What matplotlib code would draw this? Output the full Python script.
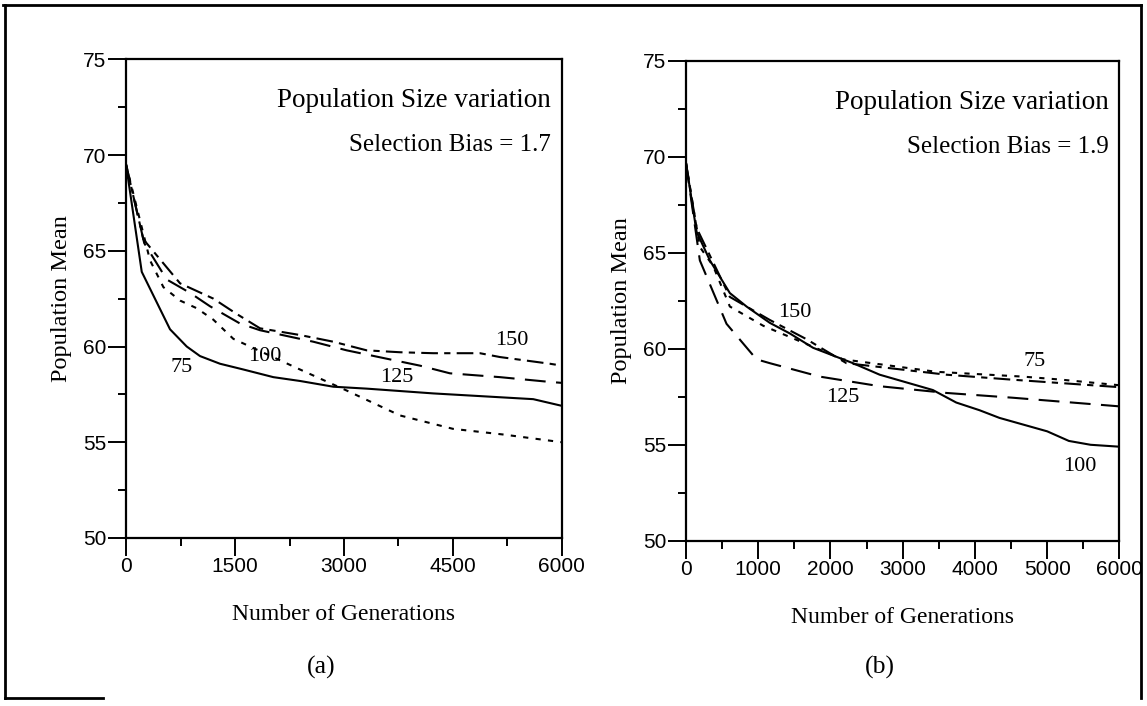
import numpy as np
import matplotlib
matplotlib.use("Agg")
import matplotlib.pyplot as plt
from matplotlib.lines import Line2D
from matplotlib.ticker import MultipleLocator

#### Data (generations, population mean)
# panel (a), selection bias = 1.7
a75_x = [0, 216, 605, 835, 1018, 1293, 1614, 2027, 2394, 2853, 3312, 4229, 5146, 5605, 6000]
a75_y = [69.5, 63.9, 60.9, 60.0, 59.5, 59.1, 58.8, 58.4, 58.2, 57.9, 57.8, 57.55, 57.35, 57.25, 56.9]

a100_x = [0, 330, 514, 743, 972, 1202, 1477, 2394, 3037, 3770, 4500, 5200, 6000]
a100_y = [69.5, 64.5, 63.1, 62.4, 62.0, 61.4, 60.4, 58.8, 57.7, 56.4, 55.7, 55.4, 55.0]

a125_x = [0, 250, 560, 881, 1156, 1569, 1844, 2578, 3037, 3541, 4046, 4458, 5146, 5834, 6000]
a125_y = [69.5, 65.4, 63.5, 62.8, 62.1, 61.2, 60.85, 60.25, 59.8, 59.4, 59.0, 58.6, 58.4, 58.15, 58.1]

a150_x = [0, 238, 743, 1202, 1523, 1844, 2394, 2853, 3312, 3770, 4229, 4871, 5146, 5834, 6000]
a150_y = [69.5, 65.6, 63.3, 62.5, 61.7, 60.95, 60.6, 60.25, 59.8, 59.7, 59.65, 59.65, 59.45, 59.1, 59.0]

# panel (b), selection bias = 1.9
b75_x = [0, 193, 378, 608, 1069, 1760, 2174, 3464, 4662, 5169, 6000]
b75_y = [69.7, 65.3, 64.3, 62.2, 61.2, 60.1, 59.45, 58.8, 58.55, 58.4, 58.1]

b100_x = [0, 147, 332, 608, 839, 1161, 1437, 1760, 2312, 2681, 3142, 3418, 3741, 4063, 4339, 5000, 5300, 5600, 6000]
b100_y = [69.7, 66.1, 64.6, 62.9, 62.2, 61.35, 60.8, 60.05, 59.25, 58.65, 58.15, 57.85, 57.2, 56.8, 56.4, 55.7, 55.2, 55.0, 54.9]

b125_x = [0, 193, 562, 977, 1161, 1852, 2681, 3603, 4524, 6000]
b125_y = [69.7, 64.6, 61.3, 59.45, 59.25, 58.55, 58.05, 57.7, 57.45, 57.0]

b150_x = [0, 147, 608, 1161, 1668, 2221, 3603, 4478, 6000]
b150_y = [69.7, 66.3, 62.7, 61.5, 60.5, 59.25, 58.65, 58.4, 58.0]

# curve labels: (text, x, y)
a_labels = [("75", 766, 58.9), ("100", 1913, 59.5), ("125", 3725, 58.4), ("150", 5307, 60.3)]
b_labels = [("150", 1506, 61.9), ("75", 4823, 59.35), ("125", 2174, 57.45), ("100", 5445, 53.85)]

a_xticks = [0, 1500, 3000, 4500, 6000]
b_xticks = [0, 1000, 2000, 3000, 4000, 5000, 6000]
y_ticks = [50, 55, 60, 65, 70, 75]

serif = "Liberation Serif"
sans = "Liberation Sans"

solid = "-"
dotted = (0, (2.5, 3.5))
longdash = (0, (10, 5))
dashdot = (0, (8, 3, 3, 3))

fig = plt.figure(figsize=(11.47, 7.06), dpi=100)
ax_a = fig.add_axes([0.1099, 0.238, 0.380, 0.678])
ax_b = fig.add_axes([0.598, 0.234, 0.378, 0.680])


def style_axes(ax, xticks, xminor, bias):
    ax.set_xlim(0, 6000)
    ax.set_ylim(50, 75)
    ax.set_xticks(xticks)
    ax.set_yticks(y_ticks)
    ax.xaxis.set_minor_locator(MultipleLocator(xminor))
    ax.yaxis.set_minor_locator(MultipleLocator(2.5))
    ax.tick_params(which="major", direction="out", length=13, width=1.4,
                   labelsize=15, pad=1)
    ax.tick_params(which="minor", direction="out", length=6, width=1.4)
    for lab in ax.get_xticklabels() + ax.get_yticklabels():
        lab.set_fontfamily(sans)
    for sp in ax.spines.values():
        sp.set_linewidth(1.6)
    ax.set_xlabel("Number of Generations", fontfamily=serif, fontsize=17, labelpad=20)
    ax.set_ylabel("Population Mean", fontfamily=serif, fontsize=17.5, labelpad=8)
    ax.text(5850, 72.85, "Population Size variation", fontfamily=serif, fontsize=19.5,
            ha="right", va="center")
    ax.text(5850, 70.5, f"Selection Bias = {bias}", fontfamily=serif, fontsize=18,
            ha="right", va="center")


style_axes(ax_a, a_xticks, 750, "1.7")
style_axes(ax_b, b_xticks, 500, "1.9")

lw = 1.5
ax_a.plot(a75_x, a75_y, color="black", lw=lw, linestyle=solid)
ax_a.plot(a100_x, a100_y, color="black", lw=lw, linestyle=dotted)
ax_a.plot(a125_x, a125_y, color="black", lw=lw, linestyle=longdash)
ax_a.plot(a150_x, a150_y, color="black", lw=lw, linestyle=dashdot)

ax_b.plot(b100_x, b100_y, color="black", lw=lw, linestyle=solid)
ax_b.plot(b75_x, b75_y, color="black", lw=lw, linestyle=dotted)
ax_b.plot(b125_x, b125_y, color="black", lw=lw, linestyle=longdash)
ax_b.plot(b150_x, b150_y, color="black", lw=lw, linestyle=dashdot)

for txt, x, y in a_labels:
    ax_a.text(x, y, txt, fontfamily=serif, fontsize=16, ha="center", va="center")
for txt, x, y in b_labels:
    ax_b.text(x, y, txt, fontfamily=serif, fontsize=16, ha="center", va="center")

# panel letters
fig.text(0.28, 0.054, "(a)", fontfamily=serif, fontsize=18.5, ha="center", va="center")
fig.text(0.767, 0.054, "(b)", fontfamily=serif, fontsize=18.5, ha="center", va="center")

# scanned frame round the figure
frame = dict(color="black", lw=2, transform=fig.transFigure)
fig.add_artist(Line2D([0.003, 0.995], [0.993, 0.993], **frame))
fig.add_artist(Line2D([0.004, 0.004], [0.012, 0.993], **frame))
fig.add_artist(Line2D([0.995, 0.995], [0.012, 0.993], **frame))
fig.add_artist(Line2D([0.004, 0.09], [0.012, 0.012], **frame))

fig.savefig("out.png", dpi=100, facecolor="white")
